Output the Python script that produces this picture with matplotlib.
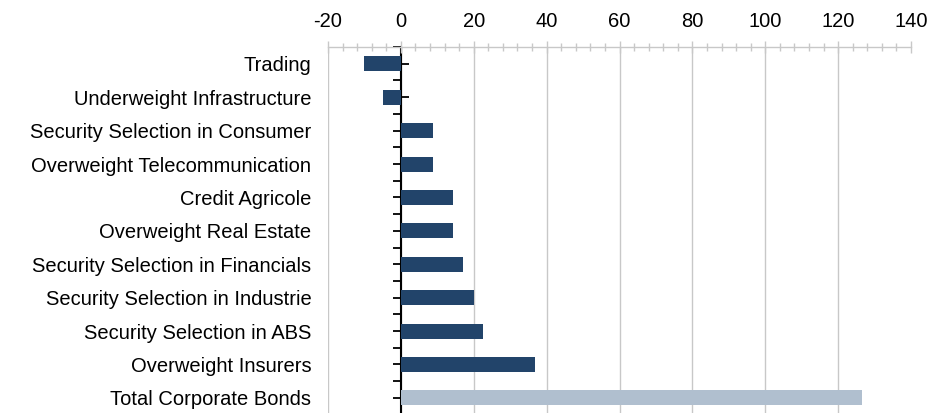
import numpy as np
import matplotlib.pyplot as plt
from matplotlib.ticker import MultipleLocator

plt.rcParams['font.family'] = ['Liberation Sans', 'DejaVu Sans']
plt.rcParams['axes.unicode_minus'] = False

# data, top to bottom
labels = ['Trading', 'Underweight Infrastructure', 'Security Selection in Consumer',
          'Overweight Telecommunication', 'Credit Agricole', 'Overweight Real Estate',
          'Security Selection in Financials', 'Security Selection in Industrie',
          'Security Selection in ABS', 'Overweight Insurers', 'Total Corporate Bonds']
values = [-10, -5, 8.8, 8.8, 14.3, 14.3, 17.0, 20.0, 22.4, 36.8, 126.5]
is_total = [False] * 10 + [True]

dark = '#22446a'
light = '#b0bfcf'
grid_col = '#c8c8c8'

fig = plt.figure(figsize=(9.48, 4.13), dpi=100)
ax = fig.add_axes([0.346, -0.012, 0.615, 0.898])

y = np.arange(len(labels))
colors = [light if t else dark for t in is_total]
ax.barh(y, values, height=0.45, color=colors, zorder=2)

ax.set_xlim(-20, 140)
ax.set_ylim(len(labels) - 0.4, -0.5)

# x axis on top
ax.xaxis.set_ticks_position('top')
ax.xaxis.set_major_locator(MultipleLocator(20))
ax.xaxis.set_minor_locator(MultipleLocator(4))
ax.tick_params(axis='x', which='major', direction='inout', length=9, width=1,
               color=grid_col, labelsize=14.5, pad=7)
ax.tick_params(axis='x', which='minor', direction='inout', length=6, width=1,
               color=grid_col)
# vertical grid, none on the right edge
for gx in np.arange(-20, 121, 20):
    ax.axvline(gx, color=grid_col, linewidth=1, zorder=0)
for s in ['left', 'right', 'bottom']:
    ax.spines[s].set_visible(False)
ax.spines['top'].set_color(grid_col)
ax.spines['top'].set_linewidth(1)

# category labels at left edge
ax.set_yticks(y)
ax.set_yticklabels(labels, fontsize=14.5)
ax.tick_params(axis='y', length=0, pad=12)

# zero axis line with ticks
sec = ax.secondary_yaxis(0, transform=ax.transData)
sec.set_yticks(y)
sec.set_yticklabels([])
sec.set_yticks(np.arange(-0.5, len(labels), 1.0), minor=True)
sec.tick_params(which='major', direction='inout', length=11, width=1.3, color='black')
sec.tick_params(which='minor', direction='out', length=6, width=1.3, color='black')
sec.spines['left'].set_color('black')
sec.spines['left'].set_linewidth(1.5)

fig.savefig('out.png', dpi=100)
